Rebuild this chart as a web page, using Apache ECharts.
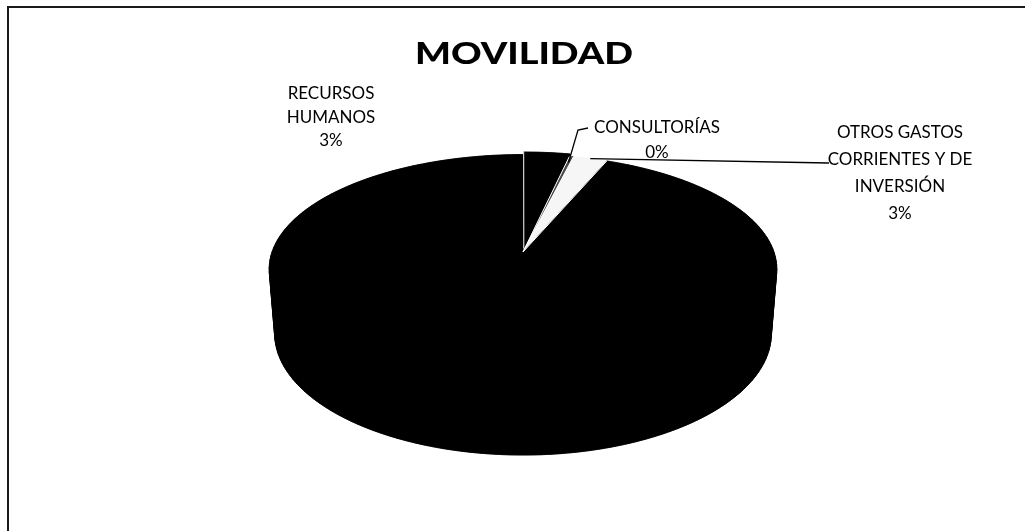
<!DOCTYPE html>
<html>
<head>
<meta charset="utf-8">
<script src="https://cdn.jsdelivr.net/npm/echarts@6/dist/echarts.min.js"></script>
<style>
  html, body { margin: 0; padding: 0; background: #ffffff; }
  #chart { width: 1025px; height: 531px; }
</style>
</head>
<body>
<div id="chart"></div>
<script>
// ---- data ----
const titleText = 'MOVILIDAD';
const categories = ['RECURSOS HUMANOS', 'CONSULTORÍAS', 'OTROS GASTOS CORRIENTES Y DE INVERSIÓN', 'RESTO'];
const labelLines = [['RECURSOS', 'HUMANOS'], ['CONSULTORÍAS'], ['OTROS GASTOS', 'CORRIENTES Y DE', 'INVERSIÓN'], null];
const values = [3.4, 0.3, 2.5, 93.8];
const sliceColors = ['#000000', '#4a4a4a', '#f6f6f6', '#000000'];

// ---- layout of the 3D pie and its labels ----
const geom = { cx: 523, cy: 252, R: 251, tiltDeg: 26.5, dist: 6, depth: 0.29 };
const explode = [0.03, 0, 0, 0];
const labelFont = { family: 'Lato', size: 16.5, weight: 'normal', stretch: 1.03 };
const labelLayout = [
  { x: 331, y: 94, lh: 23.5, leader: null },
  { x: 657, y: 128, lh: 25, leader: { r: 0.93, via: [[578, 130], [588, 128]] } },
  { x: 900, y: 133, lh: 27, leader: { r: 1.0, via: [[829, 163]] } },
  null
];

const total = values.reduce((a, b) => a + b, 0);
const startFrac = [];
values.reduce((acc, v, i) => { startFrac[i] = acc / total; return acc + v; }, 0);

const phi = geom.tiltDeg * Math.PI / 180;
const sinP = Math.sin(phi), cosP = Math.cos(phi);

// perspective projection of a point on the cylinder (angle clockwise from 12 o'clock)
function project(theta, r, z, off) {
  const x3 = off[0] + r * Math.sin(theta);
  const y3 = off[1] + r * Math.cos(theta);
  const v = -y3 * sinP - z * cosP;
  const d = -y3 * cosP + z * sinP;
  const s = geom.dist / (geom.dist - d);
  return [geom.cx + geom.R * s * x3, geom.cy + geom.R * s * v];
}

function arcPoints(a0, a1, r, z, off) {
  const n = Math.max(2, Math.ceil((a1 - a0) / (Math.PI / 180)));
  const pts = [];
  for (let k = 0; k <= n; k++) pts.push(project(a0 + (a1 - a0) * k / n, r, z, off));
  return pts;
}

function renderSlice(params, api) {
  const i = params.dataIndex;
  const val = api.value(0);
  const a0 = startFrac[i] * Math.PI * 2;
  const a1 = a0 + val / total * Math.PI * 2;
  const mid = (a0 + a1) / 2;
  const off = [explode[i] * Math.sin(mid), explode[i] * Math.cos(mid)];
  const h = -geom.depth;
  const color = sliceColors[i];
  const children = [];

  // bottom face
  children.push({
    type: 'polygon', z2: 0,
    shape: { points: [project(0, 0, h, off)].concat(arcPoints(a0, a1, 1, h, off)) },
    style: { fill: color, stroke: color, lineWidth: 0.6 }
  });
  // outer wall, in short quads
  const step = Math.PI / 90;
  for (let a = a0; a < a1 - 1e-9; a += step) {
    const b = Math.min(a1, a + step);
    children.push({
      type: 'polygon', z2: 1,
      shape: { points: [project(a, 1, 0, off), project(b, 1, 0, off), project(b, 1, h, off), project(a, 1, h, off)] },
      style: { fill: color, stroke: color, lineWidth: 0.6 }
    });
  }
  // radial walls
  [a0, a1].forEach(a => {
    children.push({
      type: 'polygon', z2: 1,
      shape: { points: [project(a, 0, 0, off), project(a, 1, 0, off), project(a, 1, h, off), project(a, 0, h, off)] },
      style: { fill: color, stroke: color, lineWidth: 0.6 }
    });
  });
  // top face
  children.push({
    type: 'polygon', z2: 5,
    shape: { points: [project(0, 0, 0, off)].concat(arcPoints(a0, a1, 1, 0, off)) },
    style: { fill: color, stroke: color, lineWidth: 0.5 }
  });
  // slice separator on the top face
  children.push({
    type: 'line', z2: 6,
    shape: (function () { const p = project(a0, 0, 0, off), q = project(a0, 1, 0, off); return { x1: p[0], y1: p[1], x2: q[0], y2: q[1] }; })(),
    style: { stroke: '#ffffff', lineWidth: 1 }
  });

  // label
  const lay = labelLayout[i];
  if (lay && labelLines[i]) {
    const lines = labelLines[i].concat([Math.round(val / total * 100) + '%']);
    lines.forEach((t, k) => {
      children.push({
        type: 'text', z2: 8,
        x: lay.x, y: lay.y + k * lay.lh, scaleX: labelFont.stretch,
        style: {
          text: t, fill: '#000000', align: 'center', verticalAlign: 'middle',
          fontFamily: labelFont.family, fontSize: labelFont.size, fontWeight: labelFont.weight
        }
      });
    });
    if (lay.leader) {
      const start = project(mid, lay.leader.r, 0, off);
      children.push({
        type: 'polyline', z2: 7,
        shape: { points: [start].concat(lay.leader.via) },
        style: { stroke: '#000000', lineWidth: 1.3, fill: null }
      });
    }
  }
  return { type: 'group', children: children };
}

const chart = echarts.init(document.getElementById('chart'), null, { renderer: 'canvas' });
chart.setOption({
  backgroundColor: '#ffffff',
  animation: false,
  graphic: [
    {
      type: 'polyline', z: 10,
      shape: { points: [[8, 531], [8, 7], [1025, 7]] },
      style: { stroke: '#1a1a1a', lineWidth: 2, fill: null }
    },
    {
      type: 'text', z: 10, x: 524, y: 54, scaleX: 1.22,
      style: {
        text: titleText, fill: '#000000', align: 'center', verticalAlign: 'middle',
        fontFamily: 'Lato', fontWeight: 900, fontSize: 31
      }
    }
  ],
  series: [{
    type: 'custom',
    coordinateSystem: 'none',
    silent: true,
    data: values.map((v, i) => ({ name: categories[i], value: [v] })),
    renderItem: renderSlice
  }]
});
</script>
</body>
</html>
